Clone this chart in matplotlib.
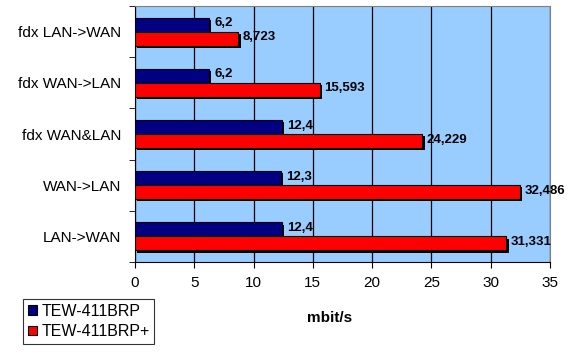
import matplotlib
matplotlib.use("Agg")
from matplotlib import pyplot as plt
from matplotlib import patheffects as pe
import numpy as np

# data (bottom to top as drawn)
categories = ['LAN->WAN', 'WAN->LAN', 'fdx WAN&LAN', 'fdx WAN->LAN', 'fdx LAN->WAN']
brp = [12.4, 12.3, 12.4, 6.2, 6.2]
brp_plus = [31.331, 32.486, 24.229, 15.593, 8.723]
brp_labels = ['12,4', '12,3', '12,4', '6,2', '6,2']
brp_plus_labels = ['31,331', '32,486', '24,229', '15,593', '8,723']
series_names = ['TEW-411BRP', 'TEW-411BRP+']

plt.rcParams['font.family'] = ['Liberation Sans', 'DejaVu Sans']

fig = plt.figure(figsize=(5.71, 3.55), dpi=100)
ax = fig.add_axes([135 / 571, 1 - 262 / 355, 415 / 571, 256 / 355])
ax.set_facecolor('#99CCFF')

y = np.arange(len(categories))
h = 0.273
shadow = [pe.SimplePatchShadow(offset=(1.6, -1.6), shadow_rgbFace='black', alpha=1.0), pe.Normal()]

b1 = ax.barh(y + h / 2, brp, height=h, color='#000080', edgecolor='black', linewidth=0.8,
             label=series_names[0], zorder=3, path_effects=shadow)
b2 = ax.barh(y - h / 2, brp_plus, height=h, color='#FF0000', edgecolor='black', linewidth=0.8,
             label=series_names[1], zorder=3, path_effects=shadow)

for yy, v, s in zip(y + h / 2, brp, brp_labels):
    ax.annotate(s, (v, yy), xytext=(4, 1), textcoords='offset points', va='center', ha='left',
                fontsize=9.5, fontweight='bold', zorder=4)
for yy, v, s in zip(y - h / 2, brp_plus, brp_plus_labels):
    ax.annotate(s, (v, yy), xytext=(3, 1), textcoords='offset points', va='center', ha='left',
                fontsize=9.5, fontweight='bold', zorder=4)

ax.set_xlim(0, 35)
ax.set_ylim(-0.5, len(categories) - 0.5)
ax.set_xticks(np.arange(0, 36, 5))
ax.tick_params(axis='x', direction='out', length=4, labelsize=11, pad=6)
ax.xaxis.grid(True, color='black', linewidth=0.9, zorder=1)

ax.set_yticks(y)
ax.set_yticklabels(categories, fontsize=11)
ax.tick_params(axis='y', which='major', length=0, pad=10)
ax.set_yticks(np.arange(-0.5, len(categories), 1), minor=True)
ax.tick_params(axis='y', which='minor', direction='out', length=4)

for side in ['top', 'right']:
    ax.spines[side].set_color('#808080')
for side in ['left', 'bottom']:
    ax.spines[side].set_color('black')

ax.set_xlabel('mbit/s', fontsize=11, fontweight='bold')
ax.xaxis.set_label_coords((330 - 135) / 415, -0.19)

leg = fig.legend(handles=[b1, b2], loc='lower left', bbox_to_anchor=(23 / 571, 1 - 344 / 355),
                 fontsize=11.5, frameon=True, fancybox=False, edgecolor='black',
                 handlelength=0.55, handleheight=0.55, handletextpad=0.3, borderpad=0.3,
                 labelspacing=0.35, borderaxespad=0)
leg.get_frame().set_linewidth(0.8)
for hnd in leg.legend_handles:
    hnd.set_path_effects([])

fig.savefig('out.png', dpi=100)
